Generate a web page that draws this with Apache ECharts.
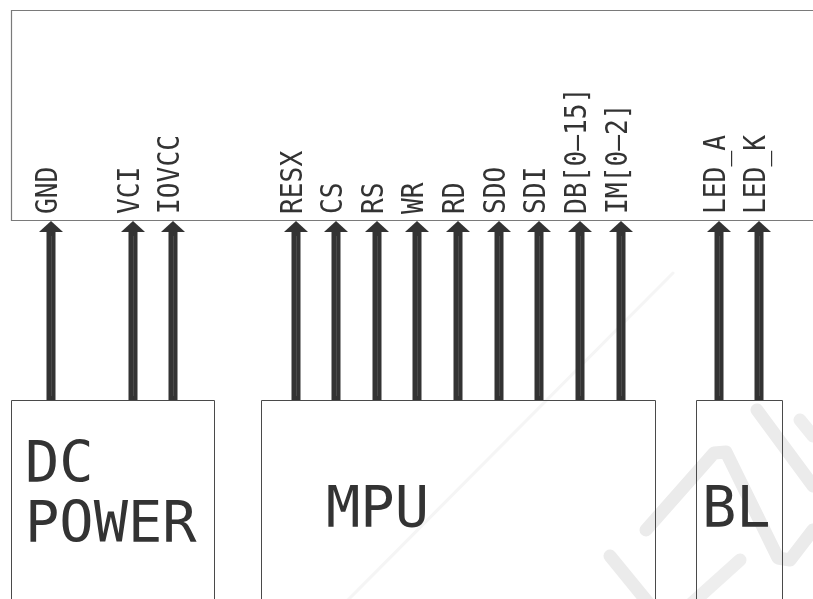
<!DOCTYPE html>
<html>
<head>
<meta charset="utf-8">
<script src="https://cdn.jsdelivr.net/npm/echarts@6/dist/echarts.min.js"></script>
<style>
html,body{margin:0;padding:0;background:#fff;}
#chart{width:813px;height:599px;}
</style>
</head>
<body>
<div id="chart"></div>
<script>
// ---- data ----
const pinNames = ['GND', 'VCI', 'IOVCC', 'RESX', 'CS', 'RS', 'WR', 'RD', 'SDO', 'SDI', 'DB[0—15]', 'IM[0—2]', 'LED_A', 'LED_K'];
const pinX = [51, 133, 173, 296, 336, 377, 417, 458, 499, 539, 580, 621, 719, 759];
const blockNames = ['DC\nPOWER', 'MPU', 'BL'];
const blockLeft = [11, 261, 696];
const blockRight = [214, 655, 782];
const panel = [11, 10, 830, 220]; // left, top, right, bottom of the LCD module box

// ---- layout constants ----
const BOX_TOP = 400;
const ARROW_TIP = 221;
const HEAD_LEN = 11;
const HEAD_HALF = 12;
const SHAFT_HALF = 4.5;
const LABEL_START = 214;
const MONO = '"DejaVu Sans Mono", "Liberation Mono", monospace';
const DARK = '#333333';
const labelOffsets = [[14, 467.5], [65, 512], [6, 512]];

const chart = echarts.init(document.getElementById('chart'), null, {renderer: 'canvas'});

const wm = (pts, w, c) => ({type: 'polyline', z: -10, silent: true, shape: {points: pts},
  style: {stroke: c, lineWidth: w, fill: 'none', lineCap: 'round', lineJoin: 'round'}});

const option = {
  animation: false,
  backgroundColor: '#ffffff',
  grid: {left: 0, right: 0, top: 0, bottom: 0},
  xAxis: {type: 'value', min: 0, max: 813, show: false},
  yAxis: {type: 'value', min: 0, max: 599, inverse: true, show: false},
  graphic: [
    // faint watermark strokes
    wm([[673, 273], [343, 605]], 3, '#f5f5f5'),
    wm([[757, 410], [813, 486]], 13, '#ebebeb'),
    wm([[646, 530], [714, 453], [726, 452], [778, 558], [790, 560], [813, 530]], 13, '#ebebeb'),
    wm([[610, 556], [650, 605]], 13, '#ebebeb'),
    wm([[690, 605], [740, 560]], 13, '#eeeeee'),
    wm([[800, 420], [813, 436]], 13, '#eeeeee')
  ],
  series: [
    {
      // module panel outline
      type: 'custom',
      data: [panel],
      z: 1,
      renderItem: function (params, api) {
        const p0 = api.coord([api.value(0), api.value(1)]);
        const p1 = api.coord([api.value(2), api.value(3)]);
        return {
          type: 'rect',
          shape: {x: p0[0] + 0.5, y: p0[1] + 0.5, width: p1[0] - p0[0], height: p1[1] - p0[1]},
          style: {fill: 'none', stroke: '#7a7a7a', lineWidth: 1.2}
        };
      }
    },
    {
      // source blocks
      type: 'custom',
      data: blockNames.map((n, i) => [blockLeft[i], blockRight[i]]),
      z: 2,
      renderItem: function (params, api) {
        const i = params.dataIndex;
        const l = api.coord([api.value(0), BOX_TOP]);
        const r = api.coord([api.value(1), 640]);
        const off = labelOffsets[i];
        const lp = api.coord([api.value(0) + off[0], off[1]]);
        const lines = blockNames[i].split('\n').length;
        return {
          type: 'group',
          children: [
            {
              type: 'rect',
              shape: {x: Math.round(l[0]) + 0.5, y: Math.round(l[1]) + 0.5, width: r[0] - l[0], height: r[1] - l[1]},
              style: {fill: 'none', stroke: '#4a4a4a', lineWidth: 1}
            },
            {
              type: 'text',
              x: lp[0],
              y: lp[1] + (lines - 1) * 30,
              style: {
                text: blockNames[i],
                fontFamily: MONO,
                fontSize: 57,
                lineHeight: 60,
                fill: DARK,
                align: 'left',
                verticalAlign: 'middle'
              }
            }
          ]
        };
      }
    },
    {
      // pin arrows and labels
      type: 'custom',
      data: pinX.map((x, i) => [x, i]),
      z: 3,
      renderItem: function (params, api) {
        const x = api.value(0);
        const tip = api.coord([x, ARROW_TIP]);
        const base = api.coord([x, ARROW_TIP + HEAD_LEN]);
        const bot = api.coord([x, BOX_TOP]);
        const lab = api.coord([x - 2, LABEL_START]);
        return {
          type: 'group',
          children: [
            {
              type: 'rect',
              shape: {x: tip[0] - SHAFT_HALF, y: base[1] - 0.5, width: SHAFT_HALF * 2, height: bot[1] - base[1] + 0.5},
              style: {fill: DARK}
            },
            {
              type: 'line',
              shape: {x1: tip[0] + 0.5, y1: base[1] + 4, x2: tip[0] + 0.5, y2: bot[1] - 4},
              style: {stroke: '#5a5a5a', lineWidth: 1, opacity: 0.6}
            },
            {
              type: 'polygon',
              shape: {points: [[tip[0] - HEAD_HALF, base[1]], [tip[0] + HEAD_HALF, base[1]], [tip[0], tip[1]]]},
              style: {fill: DARK}
            },
            {
              type: 'text',
              x: lab[0],
              y: lab[1],
              rotation: Math.PI / 2,
              scaleX: 0.875,
              scaleY: 1,
              style: {
                text: pinNames[params.dataIndex],
                fontFamily: MONO,
                fontSize: 30,
                fill: DARK,
                align: 'left',
                verticalAlign: 'middle'
              }
            }
          ]
        };
      }
    }
  ]
};

chart.setOption(option);
</script>
</body>
</html>
